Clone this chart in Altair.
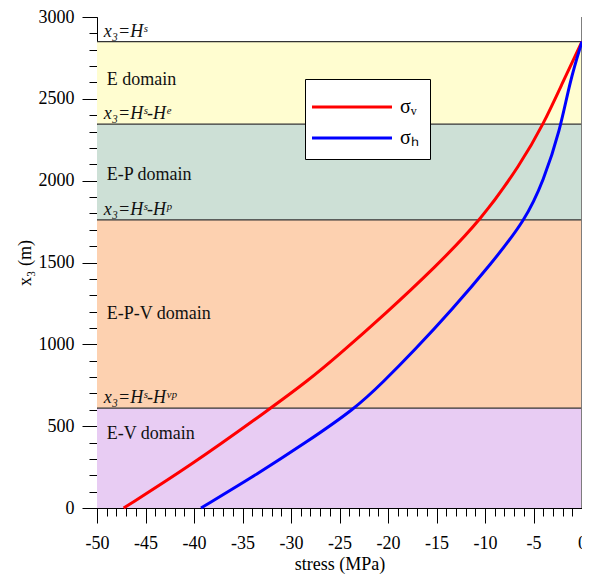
import altair as alt
import pandas as pd

FONT = "Liberation Serif"

# ---- data ----
band_names = ["E domain", "E-P domain", "E-P-V domain", "E-V domain"]
band_top = [2850, 2345, 1760, 610]
band_bottom = [2345, 1760, 610, 0]
band_colors = ["#FFFDD0", "#CDE0D6", "#FDD1B0", "#E8CCF3"]
band_label_y = [2615, 2036, 1183, 452]

boundary_labels = ["x₃=Hˢ", "x₃=Hˢ-Hᵉ", "x₃=Hˢ-Hᵖ", "x₃=Hˢ-Hᵛᵖ"]
boundary_y = [2850, 2345, 1760, 610]

sv_depth = [0, 250, 609, 781, 923, 1188, 1471, 1760, 2101, 2345, 2608, 2850]
sv_stress = [-47.25, -40.57, -32.1, -28.2, -25.32, -20.24, -15.15, -10.4, -6.33, -3.97, -1.93, 0.0]

sh_depth = [0, 213, 396, 609, 769, 960, 1208, 1492, 1760, 2000, 2304, 2608, 2850]
sh_stress = [-39.28, -33.32, -28.56, -23.34, -20.51, -17.33, -13.45, -9.37, -5.83, -3.97, -2.27, -1.25, 0.0]

series_names = ["σᵥ", "σₕ"]
series_colors = ["#FF0000", "#0000FF"]

x_major = list(range(-50, 1, 5))
x_minor = list(range(-50, 1, 1))
y_major = list(range(0, 3001, 500))
y_minor = list(range(0, 3001, 100))

# ---- tables ----
bands = pd.DataFrame({"name": band_names, "top": band_top, "bottom": band_bottom,
                      "ly": band_label_y, "x0": -50, "x1": 0})
bounds = pd.DataFrame({"label": boundary_labels, "y": boundary_y, "x0": -50, "x1": 0})
lines = pd.concat([
    pd.DataFrame({"s": sv_stress, "d": sv_depth, "series": series_names[0], "o": range(len(sv_depth))}),
    pd.DataFrame({"s": sh_stress, "d": sh_depth, "series": series_names[1], "o": range(len(sh_depth))}),
])

xs = alt.Scale(domain=[-50, 0], nice=False, zero=False)
ys = alt.Scale(domain=[0, 3000], nice=False, zero=False)

ax_x_major = alt.Axis(values=x_major, tickSize=15, labelPadding=11, labelFont=FONT, labelFontSize=18,
                      labelColor="black", labelExpr="'' + datum.value",
                      title="stress (MPa)", titleFont=FONT, titleFontSize=18,
                      titleFontWeight="normal", titleColor="black", titlePadding=3,
                      domainColor="black", tickColor="black", grid=False, orient="bottom",
                      labelFlush=False, labelOverlap=False)
ax_x_minor = alt.Axis(values=x_minor, tickSize=8, labels=False, domain=False, title=None,
                      tickColor="black", grid=False, orient="bottom")
ax_y_major = alt.Axis(values=y_major, tickSize=15, labelPadding=8, labelFont=FONT, labelFontSize=18,
                      labelColor="black", labelExpr="'' + datum.value",
                      title="x₃ (m)", titleFont=FONT, titleFontSize=18,
                      titleFontWeight="normal", titleColor="black", titlePadding=4,
                      domainColor="black", tickColor="black", grid=False, orient="left",
                      labelFlush=False, labelOverlap=False)
ax_y_minor = alt.Axis(values=y_minor, tickSize=8, labels=False, domain=False, title=None,
                      tickColor="black", grid=False, orient="left")

rects = alt.Chart(bands).mark_rect().encode(
    x=alt.X("x0:Q", scale=xs, axis=ax_x_major),
    x2="x1:Q",
    y=alt.Y("bottom:Q", scale=ys, axis=ax_y_major),
    y2="top:Q",
    fill=alt.Fill("name:N", scale=alt.Scale(domain=band_names, range=band_colors), legend=None),
)

rules = alt.Chart(bounds).mark_rule(color="#333333", strokeWidth=1.2).encode(
    x=alt.X("x0:Q", scale=xs, axis=ax_x_minor),
    x2="x1:Q",
    y=alt.Y("y:Q", scale=ys, axis=ax_y_minor),
)

right_edge = alt.Chart(bounds).mark_rule(color="#777777", strokeWidth=1).encode(
    x=alt.datum(0, scale=xs, axis=None),
)

band_text = alt.Chart(bands).mark_text(align="left", baseline="middle", font=FONT, fontSize=18,
                                       color="#111111").encode(
    x=alt.datum(-49.0, axis=None),
    y=alt.Y("ly:Q", scale=ys, axis=None),
    text="name:N",
)

bound_text = alt.Chart(bounds).mark_text(align="left", baseline="bottom", font=FONT, fontSize=18,
                                         fontStyle="italic", color="#111111", dy=-1).encode(
    x=alt.datum(-49.3, axis=None),
    y=alt.Y("y:Q", scale=ys, axis=None),
    text="label:N",
)

curves = alt.Chart(lines).mark_line(strokeWidth=3, interpolate="basis").encode(
    x=alt.X("s:Q", scale=xs, axis=None),
    y=alt.Y("d:Q", scale=ys, axis=None),
    order="o:Q",
    color=alt.Color("series:N", scale=alt.Scale(domain=series_names, range=series_colors),
                    legend=alt.Legend(orient="none", legendX=208, legendY=62, title=None,
                                      fillColor="white", strokeColor="black", padding=11,
                                      symbolType="M-2.58,0H2.58", symbolSize=961,
                                      symbolStrokeWidth=3, symbolOffset=19, labelOffset=31,
                                      rowPadding=4, labelFont=FONT, labelFontSize=20,
                                      labelColor="black")),
)

chart = alt.layer(rects, rules, right_edge, band_text, bound_text, curves).resolve_axis(
    x="independent", y="independent"
).properties(
    width=485, height=491,
    autosize=alt.AutoSizeParams(type="none"),
    padding={"left": 89, "top": 9, "right": 0, "bottom": 68},
).configure_view(stroke=None)

chart.save("out.html", embed_options={"renderer": "svg", "actions": False})
